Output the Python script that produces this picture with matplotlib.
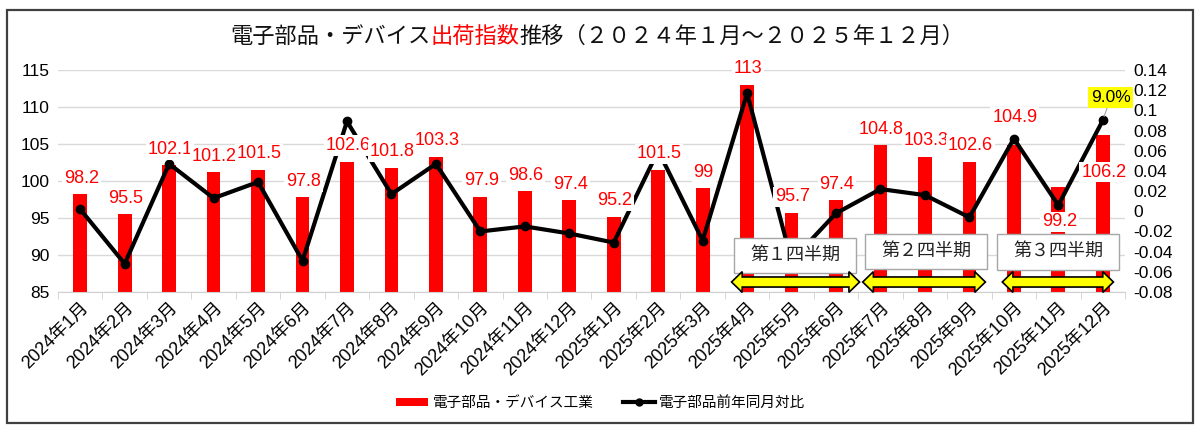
import matplotlib
matplotlib.use('Agg')
import matplotlib.pyplot as plt
from matplotlib.patches import Rectangle, Polygon, Patch
from matplotlib.lines import Line2D

plt.rcParams['font.family'] = ['Liberation Sans', 'Noto Sans CJK JP', 'DejaVu Sans']

months = ["2024年1月", "2024年2月", "2024年3月", "2024年4月", "2024年5月", "2024年6月",
          "2024年7月", "2024年8月", "2024年9月", "2024年10月", "2024年11月", "2024年12月",
          "2025年1月", "2025年2月", "2025年3月", "2025年4月", "2025年5月", "2025年6月",
          "2025年7月", "2025年8月", "2025年9月", "2025年10月", "2025年11月", "2025年12月"]
index_values = [98.2, 95.5, 102.1, 101.2, 101.5, 97.8, 102.6, 101.8, 103.3, 97.9, 98.6, 97.4,
                95.2, 101.5, 99.0, 113.0, 95.7, 97.4, 104.8, 103.3, 102.6, 104.9, 99.2, 106.2]
yoy_ratio = [0.002, -0.052, 0.047, 0.013, 0.029, -0.049, 0.089, 0.017, 0.047, -0.020, -0.015, -0.022,
             -0.031, 0.060, -0.029, 0.117, -0.049, -0.002, 0.022, 0.016, -0.006, 0.072, 0.006, 0.090]
left_ticks = [85, 90, 95, 100, 105, 110, 115]
right_ticks = [-0.08, -0.06, -0.04, -0.02, 0, 0.02, 0.04, 0.06, 0.08, 0.1, 0.12, 0.14]
right_tick_labels = ["-0.08", "-0.06", "-0.04", "-0.02", "0", "0.02", "0.04", "0.06", "0.08", "0.1", "0.12", "0.14"]
quarters = ["第１四半期", "第２四半期", "第３四半期"]
bar_name = "電子部品・デバイス工業"
line_name = "電子部品前年同月対比"

W, H = 1200, 432
fig = plt.figure(figsize=(W / 100, H / 100), dpi=100)
fig.patch.set_facecolor('white')

def fx(px):
    return px / W

def fy(py):
    return 1 - py / H

# chart frame
fig.add_artist(Rectangle((fx(7), fy(423)), fx(1193) - fx(7), fy(10) - fy(423),
                         transform=fig.transFigure, fill=False, edgecolor='#404040', lw=1.6))

ax = fig.add_axes([fx(58), fy(292), fx(1125) - fx(58), fy(70) - fy(292)])
x = list(range(len(months)))
ax.bar(x, index_values, width=0.31, color='#ff0000', zorder=2)
ax.set_ylim(85, 115)
ax.set_xlim(-0.5, len(months) - 0.5)
ax.set_yticks(left_ticks)
ax.set_yticklabels([str(t) for t in left_ticks], fontsize=12.5)
ax.grid(axis='y', color='#d9d9d9', lw=1)
ax.set_axisbelow(True)
for s in ['left', 'right', 'top']:
    ax.spines[s].set_visible(False)
ax.spines['bottom'].set_color('#d0d0d0')
ax.tick_params(axis='y', length=0, pad=6)
ax.set_xticks(x)
ax.set_xticklabels(months, rotation=45, ha='right', rotation_mode='anchor', fontsize=13)
ax.tick_params(axis='x', length=0, pad=5)
ax.set_xticks([i + 0.5 for i in range(-1, len(months))], minor=True)
ax.tick_params(axis='x', which='minor', length=5, color='#d0d0d0')

ax2 = ax.twinx()
ax2.plot(x, yoy_ratio, color='black', lw=3, marker='o', ms=6, zorder=3)
ax2.set_ylim(-0.08, 0.14)
ax2.set_yticks(right_ticks)
ax2.set_yticklabels(right_tick_labels, fontsize=12.5)
ax2.tick_params(axis='y', length=0, pad=6)
for s in ['left', 'right', 'top', 'bottom']:
    ax2.spines[s].set_visible(False)

# bar data labels (drawn on top of the line, white background like Excel)
label_offsets = {21: 27, 22: -35, 23: -37}
for i, v in enumerate(index_values):
    off = label_offsets.get(i, 16)
    ax2.annotate(f"{v:g}", xy=(i, v), xycoords=ax.transData, xytext=(1, off),
                 textcoords='offset pixels', ha='center', va='center', color='#ff0000',
                 fontsize=13, zorder=5,
                 bbox=dict(boxstyle='square,pad=0.1', fc='white', ec='none'))

# last line label
last = len(yoy_ratio) - 1
ax2.annotate(f"{yoy_ratio[last] * 100:.1f}%", xy=(last, yoy_ratio[last]), xytext=(8, 23),
             textcoords='offset pixels', ha='center', va='center', fontsize=12.5, zorder=6,
             bbox=dict(boxstyle='square,pad=0.15', fc='#ffff00', ec='none'),
             arrowprops=dict(arrowstyle='-', color='#a0a0a0', lw=0.8, shrinkA=0, shrinkB=3))

# quarter boxes and double arrows
box_spans = [(14.7, 17.46, 87.6, 92.34), (17.66, 20.4, 88.05, 92.9), (20.63, 23.37, 88.0, 92.9)]
arrow_spans = [(14.65, 17.53), (17.6, 20.36), (20.74, 23.24)]
for name, (x0, x1, y0, y1) in zip(quarters, box_spans):
    ax2.add_patch(Rectangle((x0, y0), x1 - x0, y1 - y0, transform=ax.transData,
                            fc='white', ec='#a6a6a6', lw=1, zorder=6, clip_on=False))
    ax2.text((x0 + x1) / 2, (y0 + y1) / 2, name, transform=ax.transData, ha='center',
             va='center', fontsize=13, color='#222222', zorder=7)

yc, hl, hh, sh = 86.35, 0.24, 1.4, 0.68
for x0, x1 in arrow_spans:
    pts = [(x0, yc), (x0 + hl, yc + hh), (x0 + hl, yc + sh), (x1 - hl, yc + sh), (x1 - hl, yc + hh),
           (x1, yc), (x1 - hl, yc - hh), (x1 - hl, yc - sh), (x0 + hl, yc - sh), (x0 + hl, yc - hh)]
    ax2.add_patch(Polygon(pts, closed=True, transform=ax.transData, fc='#ffff00', ec='black',
                          lw=1.2, zorder=6, clip_on=False))

# legend
handles = [Patch(fc='#ff0000', ec='none'),
           Line2D([0], [0], color='black', lw=3, marker='o', ms=5)]
fig.legend(handles, [bar_name, line_name], loc='center', bbox_to_anchor=(fx(601), fy(403)),
           ncol=2, frameon=False, fontsize=10.5, handlelength=2.2, handleheight=0.5,
           columnspacing=2.0, handletextpad=0.3)

# title with red part
title_parts = [("電子部品・デバイス", '#111111'), ("出荷指数", '#ff0000'),
               ("推移（２０２４年１月～２０２５年１２月）", '#111111')]
fig.canvas.draw()
renderer = fig.canvas.get_renderer()
texts = []
for s, c in title_parts:
    t = fig.text(0.0, fy(37), s, color=c, fontsize=16, ha='left', va='center')
    texts.append(t)
widths = [t.get_window_extent(renderer).width for t in texts]
total = sum(widths)
start = 597 - total / 2
for t, w in zip(texts, widths):
    t.set_x(fx(start))
    start += w

fig.savefig('out.png', dpi=100, facecolor='white')
